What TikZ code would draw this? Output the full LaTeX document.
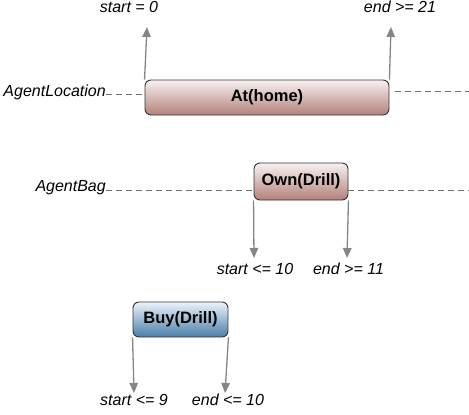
\documentclass[tikz,border=0pt]{standalone}
\usepackage{fontspec}
\setmainfont{Liberation Sans}
\usepackage{tikz}
\usetikzlibrary{positioning,arrows.meta}
\usepackage{xcolor}

\definecolor{locTop}{HTML}{F7F1F1}
\definecolor{locBot}{HTML}{B3817A}
\definecolor{buyTop}{HTML}{EBF3FA}
\definecolor{buyBot}{HTML}{4A7EA8}
\definecolor{tipGray}{HTML}{858585}
\definecolor{dashGray}{HTML}{707070}

\tikzset{
  fluent/.style={draw=black!80, line width=0.9pt, rounded corners=6pt, inner sep=0pt,
    font=\fontsize{16.5}{19}\selectfont\bfseries},
  redfluent/.style={fluent, top color=locTop, bottom color=locBot},
  bluefluent/.style={fluent, top color=buyTop, bottom color=buyBot},
  bound/.style={draw=tipGray, line width=1.3pt, -{Triangle[length=10pt,width=8.5pt]}},
  timeline/.style={draw=dashGray, line width=0.7pt, dash pattern=on 6pt off 4pt},
  lbl/.style={inner sep=0pt, font=\fontsize{16}{19}\selectfont\itshape}
}

\begin{document}
\begin{tikzpicture}[x=1pt, y=-1pt]
                \useasboundingbox (0,0) rectangle (469,415);

                % Location timeline
                \node[redfluent, minimum width=244pt, minimum height=35pt] (athome) at (267,97.5) {At(home)};
                \node[lbl, anchor=east] (locname) at (106,92) {AgentLocation};
                \coordinate (locend) at (469,91);
                \draw[timeline] (locname.east |- 0,94) -- (athome.west |- 0,94);
                \draw[timeline] ([xshift=6pt]athome.east |- locend) -- (locend);

                % bounds of At(home)
                \node[lbl] (athomestart) at (129,7) {start = 0};
                \node[lbl] (athomeend) at (400,7) {end >= 21};
                \coordinate (athomestarttip) at (147,27);
                \coordinate (athomeendtip) at (391,27);
                \draw[bound] (athome.north west) -- (athomestarttip);
                \draw[bound] (athome.north east) -- (athomeendtip);

                % Bag timeline
                \node[redfluent, minimum width=94pt, minimum height=37pt] (owndrill) at (301,181.5) {Own(Drill)};
                \node[lbl, anchor=east] (bagname) at (106,188) {AgentBag};
                \coordinate (bagend) at (469,190);
                \draw[timeline] (bagname.east |- bagend) -- (owndrill.west |- bagend);
                \draw[timeline] (owndrill.east |- bagend) -- (bagend);

                % bounds of Own(Drill)
                \node[lbl] (ownstart) at (255,269) {start <= 10};
                \node[lbl] (ownend) at (348.5,269) {end >= 11};
                \coordinate (ownstarttip) at (254,258);
                \coordinate (ownendtip) at (347,258);
                \draw[bound] (owndrill.south west) -- (ownstarttip);
                \draw[bound] (owndrill.south east) -- (ownendtip);

                % Buy action
                \node[bluefluent, minimum width=95pt, minimum height=35pt] (buydrill) at (180.5,319.5) {Buy(Drill)};
                \node[lbl] (buystart) at (134,400) {start <= 9};
                \node[lbl] (buyend) at (228,400) {end <= 10};
                \coordinate (buystarttip) at (134,393);
                \coordinate (buyendtip) at (225,393);
                \draw[bound] (buydrill.south west) -- (buystarttip);
                \draw[bound] (buydrill.south east) -- (buyendtip);
            \end{tikzpicture}
\end{document}
